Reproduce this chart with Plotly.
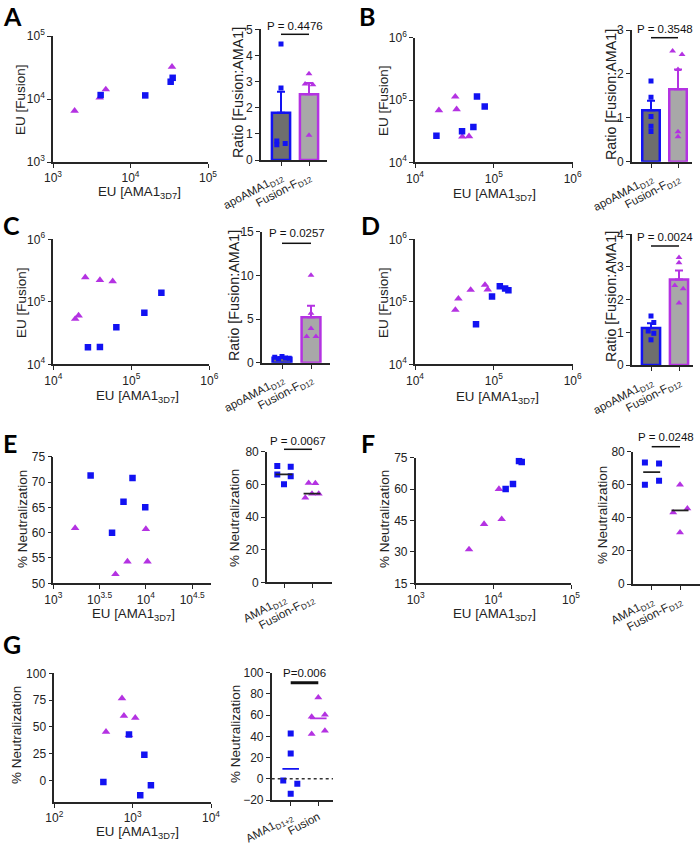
import plotly.graph_objects as go

W, H = 700, 846
BLUE = "#1212F2"
PURPLE = "#B432E2"
DARK_BAR = "#6E6E6E"
LIGHT_BAR = "#A8A8A8"
AXIS = "#262626"
FONT = "Liberation Sans, Arial, sans-serif"

# ---------------- data ----------------
# A
a_apo_x = [4120, 15500, 33000, 35000]
a_apo_y = [11550, 11400, 18800, 21700]
a_fus_x = [1900, 4000, 4800, 34300]
a_fus_y = [6500, 10500, 14200, 32500]
a_ratio_apo = [4.44, 2.75, 0.73, 0.58, 0.63]
a_ratio_fus = [3.30, 2.91, 2.88, 0.95]
a_mean = [1.81, 2.52]
a_sem = [0.80, 0.43]

# B
b_apo_x = [18700, 39500, 55000, 61100, 76600]
b_apo_y = [26800, 31400, 36900, 114000, 79000]
b_fus_x = [20100, 32400, 33700, 39800, 48400]
b_fus_y = [68300, 113000, 70800, 25800, 26100]
b_ratio_apo = [1.84, 1.47, 1.03, 0.81, 0.69]
b_ratio_fus = [2.52, 2.44, 2.10, 0.68, 0.57]
b_mean = [1.17, 1.65]
b_sem = [0.22, 0.45]

# C
c_apo_x = [27800, 39600, 64300, 147000, 243000]
c_apo_y = [18700, 18900, 39100, 67100, 140000]
c_fus_x = [19100, 21100, 25700, 39600, 57700]
c_fus_y = [53100, 60100, 247000, 223000, 213000]
c_ratio_apo = [0.62, 0.45, 0.70, 0.55, 0.50]
c_ratio_fus = [10.0, 5.65, 3.93, 3.0, 3.0]
c_mean = [0.57, 5.19]
c_sem = [0.05, 1.33]

# D
d_apo_x = [59400, 94800, 119000, 139000, 153000]
d_apo_y = [43600, 122000, 177000, 163000, 153000]
d_fus_x = [32500, 35500, 50800, 77200, 83600]
d_fus_y = [74000, 112000, 155000, 186000, 157000]
d_ratio_apo = [1.50, 1.30, 1.04, 0.97, 0.77]
d_ratio_fus = [3.29, 3.13, 2.43, 2.33, 1.90]
d_mean = [1.13, 2.62]
d_sem = [0.15, 0.27]

# E
e_ama1_x = [2530, 4310, 5730, 7170, 9840]
e_ama1_y = [71.3, 60.0, 66.1, 70.8, 65.0]
e_fus_x = [1720, 4690, 6320, 10000, 10400]
e_fus_y = [60.9, 51.8, 54.3, 60.7, 54.3]
e_lines = [66.1, 54.3]

# F
f_ama1_x = [14400, 17900, 21400, 23200]
f_ama1_y = [60.0, 62.4, 73.4, 72.9]
f_fus_x = [4860, 7590, 11800, 12800]
f_fus_y = [31.2, 43.3, 60.0, 45.6]
f_lines = [67.6, 44.5]

# G
g_ama1_x = [423, 898, 1410, 1250, 1710]
g_ama1_y = [-1.6, 42.8, 23.8, -14.0, -4.7]
g_fus_x = [457, 731, 774, 1080, 898]
g_fus_y = [45.3, 76.6, 60.3, 58.4, 42.2]
g_lines = [9.3, 57.0]

p_values = {"A": "P = 0.4476", "B": "P = 0.3548", "C": "P = 0.0257",
            "D": "P = 0.0024", "E": "P = 0.0067", "F": "P = 0.0248", "G": "P=0.006"}
ratio_labels = ["apoAMA1<sub>D12</sub>", "Fusion-F<sub>D12</sub>"]
neut_labels = ["AMA1<sub>D12</sub>", "Fusion-F<sub>D12</sub>"]
g_labels = ["AMA1<sub>D1+2</sub>", "Fusion"]
x_title = "EU [AMA1<sub>3D7</sub>]"

# horizontal spread of points within a category (layout only)
a_jit = ([0, 0, -0.15, -0.15, 0.15], [0, -0.14, 0.14, 0])
b_jit = ([0, 0, 0, 0, 0], [-0.2, 0.15, 0, 0, 0])
c_jit = ([-0.25, -0.12, 0, 0.12, 0.25], [0, 0, 0, -0.15, 0.17])
d_jit = ([0, 0.1, -0.1, 0.1, 0], [0, 0, -0.15, 0.15, 0])
e_jit = ([-0.24, 0, -0.24, 0.24, 0.24], [-0.12, -0.24, 0, 0.12, 0.24])
f_jit = ([-0.24, 0.26, -0.24, 0.26], [0, -0.24, 0, 0.26])
g_jit = ([-0.27, 0, 0, 0, 0.24], [0.24, 0, 0.24, -0.24, -0.24])

# ---------------- helpers ----------------
fig = go.Figure()
layout = {}
shapes = []
annotations = []

AX = dict(showline=True, linecolor=AXIS, linewidth=1.6, ticks="outside", ticklen=4,
          tickwidth=1.4, tickcolor=AXIS, showgrid=False, zeroline=False, automargin=False,
          tickfont=dict(size=12, color="#222"))


def key(kind, n):
    return f"{kind}axis" + ("" if n == 1 else str(n))


def ref(kind, n):
    return kind + ("" if n == 1 else str(n))


def xdom(l, r):
    return [l / W, r / W]


def ydom(t, b):
    return [1 - b / H, 1 - t / H]


def label(text, px, py, size, angle=0):
    annotations.append(dict(text=text, xref="paper", yref="paper", x=px / W, y=1 - py / H,
                            xanchor="center", yanchor="middle", showarrow=False, textangle=angle,
                            font=dict(size=size, color="#222")))


def logticks(exps):
    return dict(tickvals=[10 ** e for e in exps], ticktext=[f"10<sup>{e}</sup>" for e in exps],
                tickfont=dict(size=12, color="#222"))


def scatter_panel(n, box, xkw, ykw, ytitle, sq, tr, xt, yt, msz=(6.5, 7.5)):
    l, t, r, b = box
    layout[key("x", n)] = dict(AX, domain=xdom(l, r), anchor=ref("y", n), **xkw)
    layout[key("y", n)] = dict(AX, domain=ydom(t, b), anchor=ref("x", n), **ykw)
    label(x_title, xt[0], xt[1], 13.3)
    label(ytitle, yt[0], yt[1], 13.5, -90)
    fig.add_trace(go.Scatter(x=tr[0], y=tr[1], mode="markers",
                             marker=dict(symbol="triangle-up", size=msz[1], color=PURPLE),
                             xaxis=ref("x", n), yaxis=ref("y", n)))
    fig.add_trace(go.Scatter(x=sq[0], y=sq[1], mode="markers",
                             marker=dict(symbol="square", size=msz[0], color=BLUE),
                             xaxis=ref("x", n), yaxis=ref("y", n)))


def cat_axes(n, box, c0, c1, yr, ykw, labels, ytitle, yt, tsize):
    l, t, r, b = box
    s = c1 - c0
    layout[key("x", n)] = dict(AX, domain=xdom(l, r), anchor=ref("y", n),
                               range=[(l - c0) / s, 1 + (r - c1) / s], tickvals=[0, 1],
                               ticktext=labels, tickangle=-28, tickfont=dict(size=11.5, color="#222"))
    layout[key("y", n)] = dict(AX, domain=ydom(t, b), anchor=ref("x", n), range=yr, **ykw)
    label(ytitle, yt[0], yt[1], tsize, -90)


def points(n, vals, jit, sq_size=5, tr_size=6):
    for i, (v, j) in enumerate(zip(vals, jit)):
        sym, col, sz = ("square", BLUE, sq_size) if i == 0 else ("triangle-up", PURPLE, tr_size)
        fig.add_trace(go.Scatter(x=[i + d for d in j], y=v, mode="markers",
                                 marker=dict(symbol=sym, size=sz, color=col),
                                 xaxis=ref("x", n), yaxis=ref("y", n)))


def pvalue(n, text, line_py, text_py, lw=1.5):
    shapes.append(dict(type="line", xref=ref("x", n), x0=0, x1=1, yref="paper",
                       y0=1 - line_py / H, y1=1 - line_py / H, line=dict(color="#111", width=lw)))
    annotations.append(dict(text=text, xref=ref("x", n), x=0.5, yref="paper", y=1 - text_py / H,
                            yanchor="middle", xanchor="center", showarrow=False,
                            font=dict(size=11.5, color="#111")))


def bar_panel(n, box, c0, c1, yr, dtick, means, sems, vals, jit, ptext, pl, pt, yt):
    cat_axes(n, box, c0, c1, yr, dict(dtick=dtick), ratio_labels, "Ratio [Fusion:AMA1]", yt, 14.3)
    for i, (fill, edge) in enumerate([(DARK_BAR, BLUE), (LIGHT_BAR, PURPLE)]):
        fig.add_trace(go.Bar(x=[i], y=[means[i]], width=0.65,
                             marker=dict(color=fill, line=dict(color=edge, width=2.5)),
                             error_y=dict(type="data", array=[sems[i]], arrayminus=[0], symmetric=False,
                                          color=edge, thickness=2, width=4),
                             xaxis=ref("x", n), yaxis=ref("y", n)))
    points(n, vals, jit)
    pvalue(n, ptext, pl, pt)


def dot_panel(n, box, c0, c1, yr, ykw, labels, vals, jit, lines, lcols, ptext, pl, pt, yt, lw=1.5):
    cat_axes(n, box, c0, c1, yr, ykw, labels, "% Neutralization", yt, 13.5)
    points(n, vals, jit, 6, 7)
    for i, (v, c) in enumerate(zip(lines, lcols)):
        fig.add_trace(go.Scatter(x=[i - 0.3, i + 0.3], y=[v, v], mode="lines",
                                 line=dict(color=c, width=1.8), xaxis=ref("x", n), yaxis=ref("y", n)))
    pvalue(n, ptext, pl, pt, lw)


# ---------------- panels ----------------
log35 = logticks([3, 4, 5])
log46 = logticks([4, 5, 6])

scatter_panel(1, (53, 36, 208, 162), dict(type="log", range=[3, 5], **log35),
              dict(type="log", range=[3, 5], **log35), "EU [Fusion]", (a_apo_x, a_apo_y), (a_fus_x, a_fus_y),
              (139, 193), (21, 100))
bar_panel(2, (261, 29.3, 327, 160), 281, 309, [0, 5], 1, a_mean, a_sem,
          (a_ratio_apo, a_ratio_fus), a_jit, p_values["A"], 34.3, 25.5, (238, 93))

scatter_panel(3, (415, 37.7, 572.7, 162.3), dict(type="log", range=[4, 6], **log46),
              dict(type="log", range=[4, 6], **log46), "EU [Fusion]", (b_apo_x, b_apo_y), (b_fus_x, b_fus_y),
              (494, 194), (383, 101))
bar_panel(4, (632, 30, 692, 161.7), 651, 678, [0, 3], 1, b_mean, b_sem,
          (b_ratio_apo, b_ratio_fus), b_jit, p_values["B"], 37.7, 29, (611, 95))

scatter_panel(5, (53.3, 239.3, 209.3, 364.3), dict(type="log", range=[4, 6], **log46),
              dict(type="log", range=[4, 6], **log46), "EU [Fusion]", (c_apo_x, c_apo_y), (c_fus_x, c_fus_y),
              (137, 396), (21, 303))
bar_panel(6, (262, 231.7, 330, 362.7), 282, 311, [0, 15], 5, c_mean, c_sem,
          (c_ratio_apo, c_ratio_fus), c_jit, p_values["C"], 243.3, 233.5, (234, 296))

scatter_panel(7, (415, 239.3, 572.7, 364.3), dict(type="log", range=[4, 6], **log46),
              dict(type="log", range=[4, 6], **log46), "EU [Fusion]", (d_apo_x, d_apo_y), (d_fus_x, d_fus_y),
              (497, 397), (383, 303))
bar_panel(8, (632, 234.3, 693, 365), 651, 679, [0, 4], 1, d_mean, d_sem,
          (d_ratio_apo, d_ratio_fus), d_jit, p_values["D"], 246, 236.5, (611, 297))

scatter_panel(9, (53.3, 456.7, 210.7, 583.3), dict(type="log", range=[3, 4.7], **logticks([3, 3.5, 4, 4.5])),
              dict(range=[50, 75], dtick=5), "% Neutralization", (e_ama1_x, e_ama1_y), (e_fus_x, e_fus_y),
              (133, 614), (22, 519))
dot_panel(10, (267, 451.7, 332, 582.3), 284, 312, [0, 80], dict(dtick=20), neut_labels,
          (e_ama1_y, e_fus_y), e_jit, e_lines, ["#222", "#222"], p_values["E"], 449.3, 440.5, (234, 518))

scatter_panel(11, (415.7, 457.7, 571, 583.3), dict(type="log", range=[3, 5], **log35),
              dict(range=[15, 75], dtick=15), "% Neutralization", (f_ama1_x, f_ama1_y), (f_fus_x, f_fus_y),
              (494, 614), (384, 519))
dot_panel(12, (633, 451.7, 700, 584), 651.7, 680, [0, 80], dict(dtick=20), neut_labels,
          (f_ama1_y, f_fus_y), f_jit, f_lines, ["#222", "#222"], p_values["F"], 446.7, 436.5, (602, 515))

scatter_panel(13, (54.3, 673.3, 211, 801.7), dict(type="log", range=[2, 4], **logticks([2, 3, 4])),
              dict(range=[-20, 100], tickvals=[0, 25, 50, 75, 100]), "% Neutralization",
              (g_ama1_x, g_ama1_y), (g_fus_x, g_fus_y), (137, 832), (16, 735))
dot_panel(14, (271.7, 672.7, 333, 800), 290.7, 318.3, [-20, 100], dict(dtick=20), g_labels,
          (g_ama1_y, g_fus_y), g_jit, g_lines, [BLUE, PURPLE], p_values["G"], 682.7, 673.3, (235, 734), lw=3)
shapes.append(dict(type="line", xref="x14 domain", x0=0, x1=1, yref="y14", y0=0, y1=0,
                   line=dict(color="#333", width=1.5, dash="dot")))

# panel letters
for letter, (px, py) in {"A": (1, 16.5), "B": (357, 16), "C": (1, 224.5), "D": (359, 225),
                         "E": (1, 443.5), "F": (359, 442.5), "G": (1, 643.5)}.items():
    annotations.append(dict(text=f"<b>{letter}</b>", xref="paper", yref="paper", x=px / W, y=1 - py / H,
                            xanchor="left", yanchor="middle", showarrow=False,
                            font=dict(family="Lato, Liberation Sans, sans-serif", size=25, color="#000")))

fig.update_layout(**layout)
fig.update_layout(width=W, height=H, margin=dict(l=0, r=0, t=0, b=0), showlegend=False,
                  barmode="overlay", plot_bgcolor="white", paper_bgcolor="white",
                  font=dict(family=FONT, color="#222"), shapes=shapes, annotations=annotations)

fig.write_html("out.html", config={"displayModeBar": False},
               post_script="document.body.style.margin='0';")
